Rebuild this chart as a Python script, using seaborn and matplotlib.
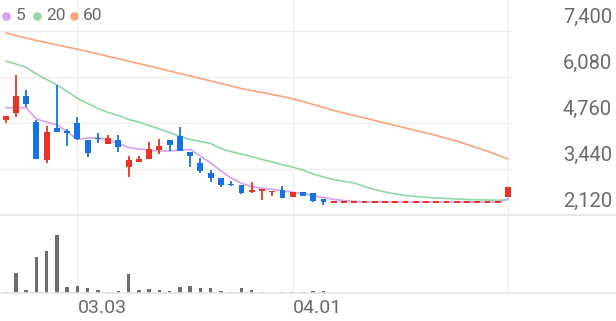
import numpy as np
import pandas as pd
import matplotlib
matplotlib.use("Agg")
import matplotlib.pyplot as plt
import matplotlib.transforms as mtransforms
from matplotlib.lines import Line2D
import seaborn as sns

# ---------------- data ----------------
opens = [4846, 5047, 5535, 4789, 3698, 4617, 4531, 4760, 4272, 4330,
         4158, 4272, 3498, 3641, 3727, 3985, 4272, 4387, 3928, 3612,
         3325, 3182, 3010, 2981, 2780, 2809, 2780, 2838, 2637, 2780,
         2751, 2579, 2493, 2493, 2493, 2493, 2493, 2493, 2493, 2493,
         2493, 2493, 2493, 2493, 2493, 2493, 2493, 2493, 2493, 2637]
highs = [4961, 6138, 5708, 4846, 4674, 5851, 4588, 4933, 4272, 4473,
         4416, 4416, 3813, 3813, 4215, 4301, 4272, 4645, 3928, 3756,
         3412, 3182, 3096, 2981, 3067, 2866, 2809, 2952, 2780, 2780,
         2751, 2579, 2493, 2493, 2493, 2493, 2493, 2493, 2493, 2493,
         2493, 2493, 2493, 2493, 2493, 2493, 2493, 2493, 2493, 2924]
lows = [4760, 4933, 5220, 3727, 3612, 4502, 4100, 4272, 3785, 4186,
        4158, 3928, 3211, 3641, 3727, 3870, 3957, 3957, 3498, 3325,
        3067, 2924, 2952, 2723, 2751, 2551, 2665, 2608, 2637, 2665,
        2493, 2407, 2493, 2493, 2493, 2493, 2493, 2493, 2493, 2493,
        2493, 2493, 2493, 2493, 2493, 2493, 2493, 2493, 2493, 2637]
closes = [4961, 5535, 5306, 3727, 4502, 4502, 4473, 4301, 3899, 4301,
          4330, 4072, 3698, 3727, 4014, 4100, 4129, 3957, 3813, 3383,
          3182, 2981, 2981, 2751, 2838, 2866, 2809, 2608, 2780, 2665,
          2522, 2493, 2493, 2493, 2493, 2493, 2493, 2493, 2493, 2493,
          2493, 2493, 2493, 2493, 2493, 2493, 2493, 2493, 2493, 2924]
volumes = [15, 205, 30, 360, 416, 576, 60, 70, 46, 30,
           10, 20, 190, 33, 43, 26, 23, 56, 73, 46,
           50, 23, 10, 53, 33, 13, 5, 13, 10, 7,
           16, 20, 0, 0, 0, 0, 0, 0, 0, 0,
           0, 0, 0, 0, 0, 0, 0, 0, 0, 5]
ma5 = [5199, 5199, 5199, 4875, 4789, 4703, 4510, 4287, 4330, 4330,
       4272, 4172, 4057, 4014, 3985, 3957, 3957, 3985, 4000, 3813,
       3612, 3383, 3182, 3030, 2932, 2886, 2857, 2817, 2771, 2743,
       2674, 2622, 2565, 2536, 2513, 2493, 2493, 2493, 2493, 2493,
       2493, 2493, 2493, 2493, 2493, 2493, 2493, 2493, 2493, 2579]
ma20 = [6539, 6453, 6358, 6166, 6008, 5850, 5664, 5469, 5320, 5176,
        5061, 4975, 4860, 4789, 4688, 4588, 4487, 4373, 4287, 4229,
        4172, 4028, 3936, 3870, 3799, 3713, 3641, 3561, 3497, 3411,
        3297, 3210, 3139, 3081, 3038, 2938, 2852, 2780, 2723, 2680,
        2651, 2628, 2608, 2593, 2579, 2565, 2556, 2550, 2542, 2559]
ma60 = [7343, 7271, 7199, 7127, 7070, 6998, 6941, 6875, 6812, 6740,
        6674, 6605, 6533, 6465, 6396, 6324, 6252, 6180, 6109, 6037,
        5965, 5894, 5822, 5750, 5693, 5635, 5578, 5520, 5455, 5377,
        5291, 5205, 5119, 5047, 4975, 4904, 4832, 4760, 4688, 4617,
        4545, 4473, 4401, 4321, 4238, 4143, 4048, 3948, 3842, 3727]
date_ticks = [7, 28, 49]
date_labels = ["03.03", "04.01", ""]
price_ticks = [7400, 6080, 4760, 3440, 2120]
legend_labels = ["5", "20", "60"]

# ---------------- style ----------------
sns.set_theme(style="white")
plt.rcParams["font.family"] = ["Roboto", "DejaVu Sans"]

UP = "#ec3323"
DOWN = "#1673e6"
C5, C20, C60 = "#d7a0f0", "#8fd9a4", "#fca47c"
GRID = "#efefef"
TXT = "#6a6a6a"

W, H = 616, 321
fig = plt.figure(figsize=(W / 100, H / 100), dpi=100)
fig.patch.set_facecolor("white")


def rect(x0, y0, x1, y1):
    return [x0 / W, 1 - y1 / H, (x1 - x0) / W, (y1 - y0) / H]


ax = fig.add_axes(rect(0, 0, 512, 215))
axv = fig.add_axes(rect(0, 215, 512, 293), sharex=ax)

idx = np.arange(len(closes))
o = np.array(opens, float)
c = np.array(closes, float)
hi = np.array(highs, float)
lo = np.array(lows, float)
colors = [UP if cc >= oo else DOWN for oo, cc in zip(o, c)]

for a in (ax, axv):
    a.set_facecolor("white")
    for s in a.spines.values():
        s.set_visible(False)
    for t in date_ticks:
        a.axvline(t, color=GRID, lw=1, zorder=0)

for p in price_ticks[:-1]:
    ax.axhline(p, color=GRID, lw=1, zorder=0)

# moving averages
df = pd.DataFrame({"i": idx, "ma5": ma5, "ma20": ma20, "ma60": ma60})
sns.lineplot(data=df, x="i", y="ma60", ax=ax, color=C60, lw=1.2, zorder=2)
sns.lineplot(data=df, x="i", y="ma20", ax=ax, color=C20, lw=1.2, zorder=2)
sns.lineplot(data=df, x="i", y="ma5", ax=ax, color=C5, lw=1.2, zorder=3)

# candles (drawn above the average lines)
ax.vlines(idx, lo, hi, colors=colors, lw=1.3, zorder=4)
minh = 55
body_h = np.maximum(np.abs(c - o), minh)
body_b = np.minimum(o, c) - (body_h - np.abs(c - o)) / 2
ax.bar(idx, body_h, bottom=body_b, width=0.58, color=colors, lw=0, zorder=5)

ax.set_xlim(-0.556, 49.39)
ax.set_ylim(2120, 8290)
ax.set_xlabel("")
ax.set_ylabel("")
ax.tick_params(left=False, bottom=False, labelleft=False, labelbottom=False)

# price labels on the right
trans = mtransforms.blended_transform_factory(fig.transFigure, ax.transData)
trans = mtransforms.offset_copy(trans, fig=fig, y=9.8, units="points")
for p in price_ticks:
    ax.text(612 / W, p, f"{p:,}", transform=trans, ha="right", va="center",
            fontsize=14.5, color=TXT, clip_on=False)

# volume
axv.bar(idx, volumes, width=0.34, color="#6e6e6e", lw=0, zorder=2)
axv.set_ylim(0, 780)
axv.set_xticks(date_ticks[:2])
axv.set_xticklabels(date_labels[:2], ha="left", fontsize=14, color=TXT)
axv.tick_params(axis="x", length=0, pad=4)
axv.tick_params(left=False, labelleft=False)
axv.set_xlabel("")
axv.set_ylabel("")

# full-width separator lines
for yy in (215, 293):
    fig.add_artist(Line2D([0, 1], [1 - yy / H] * 2, transform=fig.transFigure,
                          color="#e4e4e4", lw=1.2))

# legend
for (xd, xt), lab, col in zip([(6, 15.5), (37, 46), (74, 82.5)], legend_labels, [C5, C20, C60]):
    fig.add_artist(Line2D([xd / W], [1 - 15.5 / H], transform=fig.transFigure,
                          marker="o", ms=6.2, color=col, mec="none", lw=0))
    fig.text(xt / W, 1 - 15.5 / H, lab, ha="left", va="center",
             fontsize=12.5, color=TXT)

fig.savefig("out.png", dpi=100, facecolor="white")
